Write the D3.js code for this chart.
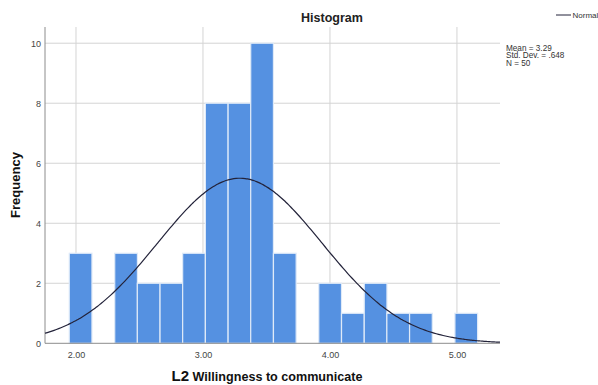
<!DOCTYPE html>
<html>
<head>
<meta charset="utf-8">
<script src="https://cdn.jsdelivr.net/npm/d3@7"></script>
<style>
  html, body { margin: 0; padding: 0; background: #fff; overflow: hidden; }
  svg { display: block; font-family: "Liberation Sans", Arial, sans-serif; }
</style>
</head>
<body>
<svg id="chart" width="598" height="385"></svg>
<script>
// Histogram bins: lower edge of each bin and the number of cases in it
const binLower = [1.947, 2.126, 2.305, 2.483, 2.662, 2.840, 3.019, 3.198, 3.376,
                  3.555, 3.734, 3.912, 4.091, 4.270, 4.448, 4.627, 4.806, 4.984];
const binWidth = 0.1787;
const counts = [3, 0, 3, 2, 2, 3, 8, 8, 10, 3, 0, 2, 1, 2, 1, 1, 0, 1];

// Summary statistics shown beside the plot
const stats = { mean: 3.29, sd: 0.648, n: 50 };
const statLines = ["Mean = 3.29", "Std. Dev. = .648", "N = 50"];

// Axis ticks
const xTicks = [2, 3, 4, 5];
const yTicks = [0, 2, 4, 6, 8, 10];

const svg = d3.select("#chart");

const plot = { left: 45, right: 500, top: 27, bottom: 343.3 };

const x = d3.scaleLinear().domain([1.756, 5.339]).range([plot.left, plot.right]);
const y = d3.scaleLinear().domain([0, 10.54]).range([plot.bottom, plot.top]);

// Grid lines
const grid = svg.append("g");
grid.selectAll("line.h").data(yTicks.filter(d => d > 0)).join("line")
  .attr("x1", plot.left).attr("x2", plot.right)
  .attr("y1", d => y(d)).attr("y2", d => y(d))
  .attr("stroke", "#d4d4d4").attr("stroke-width", 1);
grid.selectAll("line.v").data(xTicks).join("line")
  .attr("x1", d => x(d)).attr("x2", d => x(d))
  .attr("y1", plot.top).attr("y2", plot.bottom)
  .attr("stroke", "#d4d4d4").attr("stroke-width", 1);

// Bars
svg.append("g").selectAll("rect").data(counts.map((c, i) => ({ x0: binLower[i], c })).filter(d => d.c > 0))
  .join("rect")
  .attr("x", d => x(d.x0))
  .attr("width", d => x(d.x0 + binWidth) - x(d.x0))
  .attr("y", d => y(d.c))
  .attr("height", d => y(0) - y(d.c))
  .attr("fill", "#5591e1")
  .attr("stroke", "#dfeaf8")
  .attr("stroke-width", 1.2);

// Axes lines (no tick marks, labels only)
const xAxis = d3.axisBottom(x).tickValues(xTicks).tickFormat(d3.format(".2f")).tickSize(0).tickPadding(8);
const gx = svg.append("g").attr("transform", `translate(0,${plot.bottom})`).call(xAxis);
gx.select(".domain").attr("stroke", "#8c8c8c").attr("d", `M${plot.left},0H${plot.right}`);
gx.selectAll("text").attr("font-size", 9).attr("fill", "#444").attr("font-family", "Liberation Sans, Arial, sans-serif");

const yAxis = d3.axisLeft(y).tickValues(yTicks).tickFormat(d3.format("d")).tickSize(0).tickPadding(4);
const gy = svg.append("g").attr("transform", `translate(${plot.left},0)`).call(yAxis);
gy.select(".domain").attr("stroke", "#8c8c8c").attr("d", `M0,${plot.top}V${plot.bottom}`);
gy.selectAll("text").attr("font-size", 9).attr("fill", "#444").attr("font-family", "Liberation Sans, Arial, sans-serif");

// Fitted normal curve from the stated mean and standard deviation
const scale = stats.n * binWidth / (stats.sd * Math.sqrt(2 * Math.PI));
const curveX = d3.range(0, 201).map(i => x.domain()[0] + (x.domain()[1] - x.domain()[0]) * i / 200);
const line = d3.line()
  .x(d => x(d))
  .y(d => y(scale * Math.exp(-0.5 * Math.pow((d - stats.mean) / stats.sd, 2))))
  .curve(d3.curveBasis);
svg.append("path").datum(curveX)
  .attr("d", line)
  .attr("fill", "none")
  .attr("stroke", "#23233a")
  .attr("stroke-width", 1.2);

// Title
svg.append("text").attr("x", 332).attr("y", 22)
  .attr("text-anchor", "middle").attr("font-weight", "bold").attr("font-size", 12.5)
  .attr("fill", "#222").text("Histogram");

// Y axis title
svg.append("text")
  .attr("transform", "translate(20,185) rotate(-90)")
  .attr("text-anchor", "middle").attr("font-weight", "bold").attr("font-size", 13)
  .attr("fill", "#111").text("Frequency");

// X axis title
const xt = svg.append("text").attr("x", 267).attr("y", 381)
  .attr("text-anchor", "middle").attr("font-weight", "bold").attr("fill", "#111");
xt.append("tspan").attr("font-size", 15).text("L2");
xt.append("tspan").attr("font-size", 12.6).text(" Willingness to communicate");

// Statistics block
svg.append("g").selectAll("text").data(statLines).join("text")
  .attr("x", 506).attr("y", (d, i) => 50.5 + i * 7.8)
  .attr("font-size", 8.2).attr("fill", "#333").text(d => d);

// Legend
svg.append("line").attr("x1", 556).attr("x2", 571).attr("y1", 15).attr("y2", 15)
  .attr("stroke", "#23233a").attr("stroke-width", 1);
svg.append("text").attr("x", 572.5).attr("y", 18)
  .attr("font-size", 8).attr("fill", "#333").text("Normal");
</script>
</body>
</html>
